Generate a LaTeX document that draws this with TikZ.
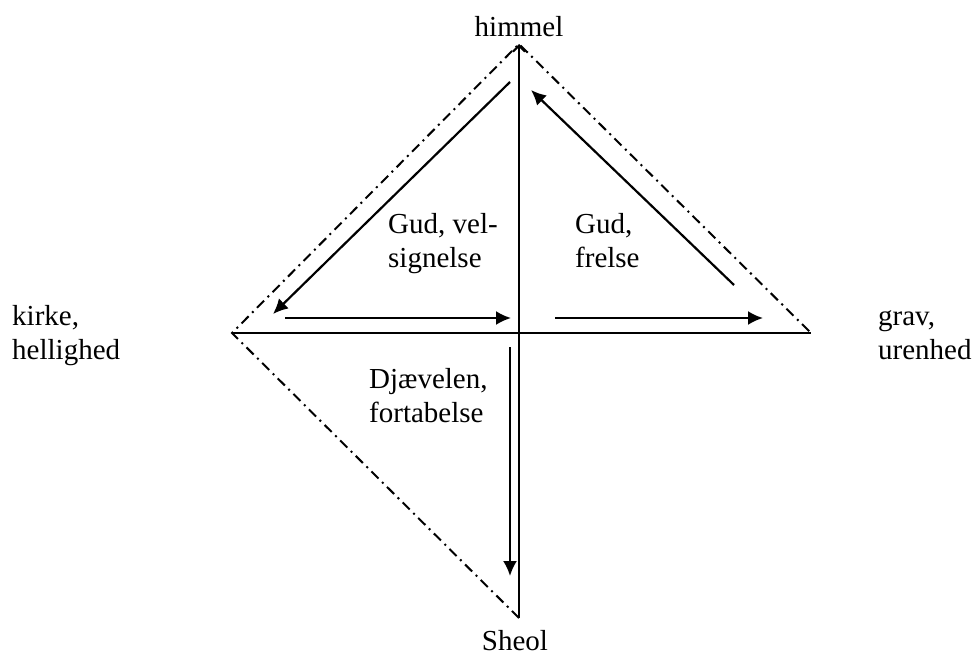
\documentclass[tikz,border=0pt]{standalone}
\usepackage{fontspec}
\setmainfont{Liberation Serif}
\usetikzlibrary{arrows.meta}
\begin{document}
\begin{tikzpicture}[x=1pt,y=-1pt,
  axis/.style={line width=2.2pt},
  frame/.style={line width=2pt,dash pattern=on 10pt off 5pt on 2pt off 5pt},
  flow/.style={line width=2.2pt,-{Latex[length=15pt,width=14pt]}},
  lbl/.style={inner sep=0pt,align=left,font=\fontsize{29}{34}\selectfont},
]
\useasboundingbox (0,0) rectangle (977,659);
% diamond vertices
\coordinate (T) at (519,44);
\coordinate (B) at (519,618);
\coordinate (L) at (232,333);
\coordinate (R) at (811,333);
% axes
\draw[axis,-{Straight Barb[length=6pt,width=12pt]}] (B) -- (T);
\draw[axis] (L) -- (R);
% dash-dot frame
\draw[frame] (B) -- (L) -- (T) -- (R);
% flow arrows
\coordinate (a1s) at (510,82);  \coordinate (a1e) at (273,314);
\coordinate (a2s) at (285,318); \coordinate (a2e) at (511,318);
\coordinate (a3s) at (555,318); \coordinate (a3e) at (763,318);
\coordinate (a4s) at (734,285); \coordinate (a4e) at (531,90);
\coordinate (a5s) at (510,347); \coordinate (a5e) at (510,576);
\draw[flow] (a1s) -- (a1e);
\draw[flow] (a2s) -- (a2e);
\draw[flow] (a3s) -- (a3e);
\draw[flow] (a4s) -- (a4e);
\draw[flow] (a5s) -- (a5e);
% labels (base anchor = baseline of last line)
\node[lbl,anchor=base] (himmel) at (519,36) {himmel};
\node[lbl,anchor=base] (sheol) at (515,650) {Sheol};
\node[lbl,anchor=base west] (kirke) at (12,359) {kirke,\\hellighed};
\node[lbl,anchor=base west] (grav) at (878,359) {grav,\\urenhed};
\node[lbl,anchor=base west] (gud1) at (388,267) {Gud, vel-\\signelse};
\node[lbl,anchor=base west] (gud2) at (575,267) {Gud,\\frelse};
\node[lbl,anchor=base west] (djav) at (369,422) {Djævelen,\\fortabelse};
\end{tikzpicture}
\end{document}
